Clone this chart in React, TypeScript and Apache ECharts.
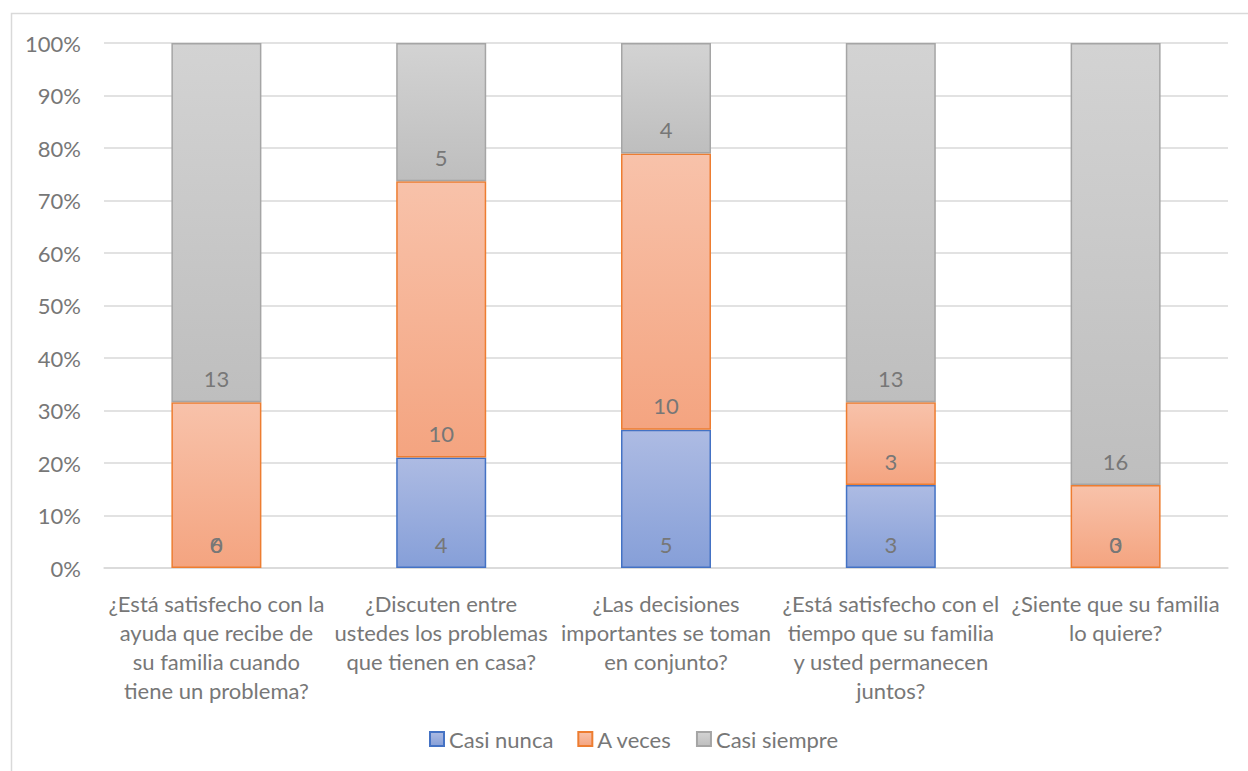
import React, { useEffect, useRef } from "react";
import * as echarts from "echarts";

const categories = [
  "¿Está satisfecho con la\nayuda que recibe de\nsu familia cuando\ntiene un problema?",
  "¿Discuten entre\nustedes los problemas\nque tienen en casa?",
  "¿Las decisiones\nimportantes se toman\nen conjunto?",
  "¿Está satisfecho con el\ntiempo que su familia\ny usted permanecen\njuntos?",
  "¿Siente que su familia\nlo quiere?",
];

const seriesNames = ["Casi nunca", "A veces", "Casi siempre"];
const casiNunca = [0, 4, 5, 3, 0];
const aVeces = [6, 10, 10, 3, 3];
const casiSiempre = [13, 5, 4, 13, 16];

const counts = [casiNunca, aVeces, casiSiempre];
const totals = categories.map((_, i) => counts.reduce((s, arr) => s + arr[i], 0));

const FONT = "Lato, 'Noto Sans', sans-serif";
const TEXT = "#777777";

const fills = [
  { top: "#adbbe3", bottom: "#869fd8", border: "#4472c4" },
  { top: "#f8c2aa", bottom: "#f4a480", border: "#ed7d31" },
  { top: "#d3d3d3", bottom: "#bebebe", border: "#a5a5a5" },
];

export default function App() {
  const ref = useRef<HTMLDivElement>(null);

  useEffect(() => {
    if (!ref.current) return;
    const chart = echarts.init(ref.current, undefined, { renderer: "svg" });

    const series = counts.map((arr, s) => ({
      name: seriesNames[s],
      type: "bar",
      stack: "total",
      barWidth: 90,
      data: arr.map((v, i) => ({
        value: (v / totals[i]) * 100,
        count: v,
        // an empty segment keeps its label but draws no outline
        ...(v === 0 ? { itemStyle: { borderWidth: 0, borderColor: "transparent" } } : {}),
      })),
      itemStyle: {
        color: new echarts.graphic.LinearGradient(0, 0, 0, 1, [
          { offset: 0, color: fills[s].top },
          { offset: 1, color: fills[s].bottom },
        ]),
        borderColor: fills[s].border,
        borderWidth: 1.5,
      },
      label: {
        show: true,
        position: "insideBottom",
        distance: 13,
        fontFamily: FONT,
        fontSize: 22,
        color: TEXT,
        formatter: (p: any) => String(p.data.count),
      },
    }));

    chart.setOption({
      animation: false,
      backgroundColor: "#ffffff",
      textStyle: { fontFamily: FONT },
      graphic: [
        {
          type: "rect",
          shape: { x: 11.5, y: 13.5, width: 1400, height: 900 },
          style: { fill: "none", stroke: "#d9d9d9", lineWidth: 1.5 },
          silent: true,
        },
      ],
      grid: { left: 104, right: 20, top: 43, bottom: 203, containLabel: false },
      legend: {
        bottom: 16,
        left: 424,
        itemWidth: 14,
        itemHeight: 14,
        itemGap: 24,
        icon: "rect",
        textStyle: { fontFamily: FONT, fontSize: 22, color: TEXT },
        data: seriesNames,
      },
      xAxis: {
        type: "category",
        data: categories,
        axisLine: { lineStyle: { color: "#d9d9d9", width: 1.5 } },
        axisTick: { show: false },
        axisLabel: {
          interval: 0,
          margin: 21,
          fontFamily: FONT,
          fontSize: 22,
          lineHeight: 29,
          color: TEXT,
          align: "center",
        },
      },
      yAxis: {
        type: "value",
        min: 0,
        max: 100,
        interval: 10,
        axisLine: { show: false },
        axisTick: { show: false },
        axisLabel: {
          formatter: "{value}%",
          margin: 23,
          fontFamily: FONT,
          fontSize: 22,
          color: TEXT,
        },
        splitLine: { lineStyle: { color: "#d9d9d9", width: 1.5 } },
      },
      series,
    });

    return () => chart.dispose();
  }, []);

  return (
    <div
      ref={ref}
      style={{ position: "absolute", left: 0, top: 0, width: 1248, height: 771 }}
    />
  );
}
